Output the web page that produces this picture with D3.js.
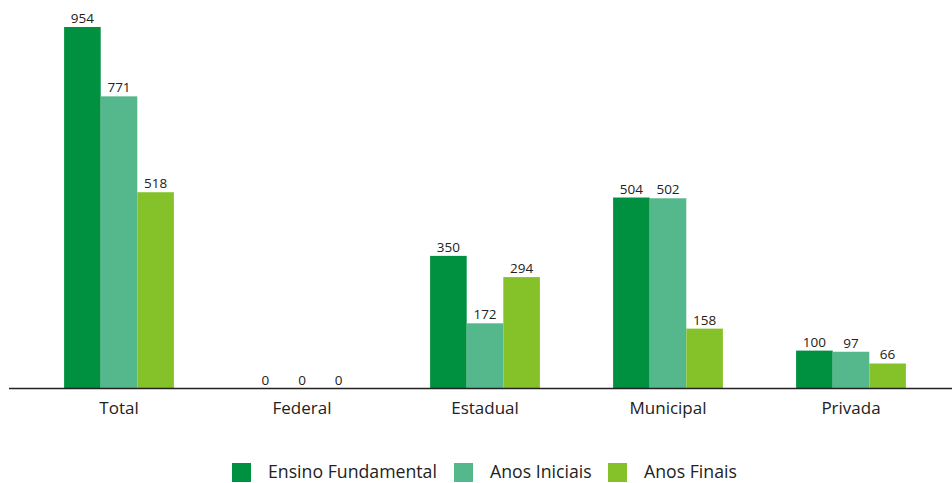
<!DOCTYPE html>
<html><head><meta charset="utf-8">
<script src="https://cdn.jsdelivr.net/npm/d3@7"></script>
<style>
html,body{margin:0;padding:0;background:#fff;}
svg{display:block;font-family:"Open Sans",sans-serif;}
</style></head>
<body>
<svg id="chart" width="952" height="483"></svg>
<script>
const categories = ["Total","Federal","Estadual","Municipal","Privada"];
const seriesNames = ["Ensino Fundamental","Anos Iniciais","Anos Finais"];
const ensinoFundamental = [954,0,350,504,100];
const anosIniciais = [771,0,172,502,97];
const anosFinais = [518,0,294,158,66];
const seriesValues = [ensinoFundamental, anosIniciais, anosFinais];
const colors = ["#009140","#55b88d","#85c22a"];
const FONT = "'Open Sans',sans-serif";

const svg = d3.select("#chart");
const baseY = 388.5;
const x0 = d3.scaleBand().domain(categories).range([27.5, 942.5]).paddingInner(0.4).paddingOuter(0.2);
const x1 = d3.scaleBand().domain(seriesNames).range([0, x0.bandwidth()]);
const y = d3.scaleLinear().domain([0, 954]).range([baseY, 27]);

const groups = svg.append("g").selectAll("g").data(categories).join("g")
  .attr("transform", d => `translate(${x0(d)},0)`);

groups.each(function(cat, ci){
  const g = d3.select(this);
  seriesNames.forEach((s, si) => {
    const v = seriesValues[si][ci];
    g.append("rect").attr("x", x1(s)).attr("width", x1.bandwidth())
      .attr("y", y(v)).attr("height", baseY - y(v)).attr("fill", colors[si]);
    g.append("text").attr("x", x1(s) + x1.bandwidth()/2).attr("y", y(v) - 4)
      .attr("text-anchor","middle").attr("font-size", 13.5).attr("fill","#222").text(v);
  });
});

// axis line
svg.append("line").attr("x1", 9).attr("x2", 952).attr("y1", baseY).attr("y2", baseY)
  .attr("stroke", "#222").attr("stroke-width", 1.3);

// category axis labels
const xAxis = d3.axisBottom(x0).tickSize(0).tickPadding(0);
const ax = svg.append("g").attr("transform", `translate(0,${baseY})`).call(xAxis);
ax.select(".domain").remove();
ax.selectAll("text").attr("font-size", 17).attr("fill", "#222")
  .attr("font-family", FONT).attr("dy", "1.5em");

// legend
const legendX = [232, 454, 608];
const lg = svg.append("g");
seriesNames.forEach((s, i) => {
  lg.append("rect").attr("x", legendX[i]).attr("y", 463).attr("width", 19).attr("height", 19).attr("fill", colors[i]);
  lg.append("text").attr("x", legendX[i] + 36).attr("y", 478).attr("font-size", 17.7).attr("fill", "#222").text(s);
});
</script>
</body></html>
